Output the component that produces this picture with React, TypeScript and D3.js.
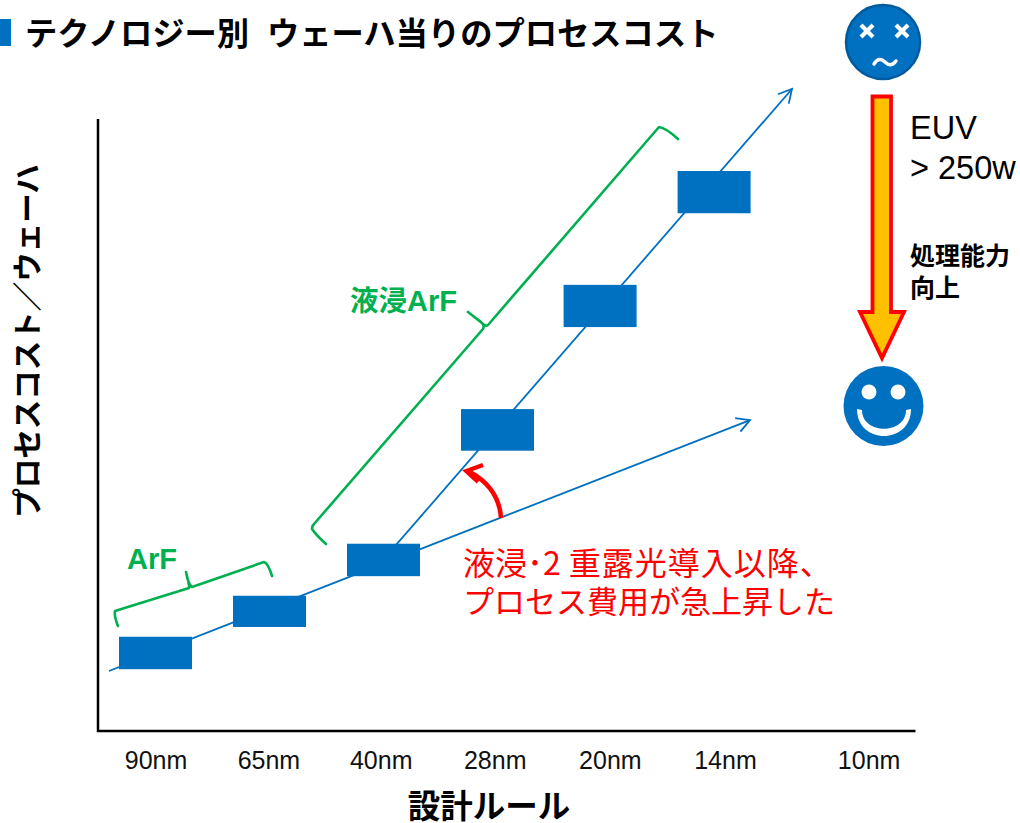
import * as d3 from 'd3';

// design rules along the x axis, in "node steps" from 90nm
const nodeLabels = ['90nm', '65nm', '40nm', '28nm', '20nm', '14nm', '10nm'];
const labelSteps = [0.005, 0.995, 1.98, 2.98, 3.99, 5.0, 6.26];

// cost blocks (arbitrary cost units, 0-100 axis)
const barSteps = [0, 1, 2, 3, 3.9, 4.9];
const barLow = [10.1, 17.0, 25.3, 45.8, 66.0, 84.6];
const barHigh = [15.4, 22.1, 30.6, 52.6, 72.9, 91.5];

// trend lines: [step, cost]
const dryTrend: [number, number][] = [[-0.408, 9.8], [5.215, 50.8]];
const immersionTrend: [number, number][] = [[2.11, 30.4], [5.583, 104.9]];

const BLUE = '#0070c0';
const GREEN = '#00b050';
const RED = '#ff0000';
const JP = '"Noto Sans CJK JP", sans-serif';
const LATIN = '"Liberation Sans", Arial, sans-serif';

const x = d3.scaleLinear().domain([0, 1]).range([155.5, 269.5]);
const y = d3.scaleLinear().domain([0, 100]).range([731, 119]);
const trendLine = d3.line<[number, number]>().x(d => x(d[0])).y(d => y(d[1]));

// open arrow head at the end of a segment
function arrowHead(from: [number, number], to: [number, number], len = 15, spread = 0.5) {
  const a = Math.atan2(to[1] - from[1], to[0] - from[0]);
  const p1 = [to[0] - len * Math.cos(a - spread), to[1] - len * Math.sin(a - spread)];
  const p2 = [to[0] - len * Math.cos(a + spread), to[1] - len * Math.sin(a + spread)];
  return `M${p1[0]},${p1[1]}L${to[0]},${to[1]}L${p2[0]},${p2[1]}`;
}

function Trend({ pts }: { pts: [number, number][] }) {
  const a: [number, number] = [x(pts[0][0]), y(pts[0][1])];
  const b: [number, number] = [x(pts[1][0]), y(pts[1][1])];
  return (
    <g fill="none" stroke={BLUE} strokeWidth={1.8}>
      <path d={trendLine(pts) ?? ''} />
      <path d={arrowHead(a, b)} />
    </g>
  );
}

export default function App() {
  return (
    <svg width={1020} height={823} style={{ position: 'absolute', left: 0, top: 0, background: '#fff' }}>
      {/* title */}
      <rect x={0} y={19} width={11} height={27} fill={BLUE} />
      <text y={45} fontFamily={JP} fontSize={32.3} fontWeight={700} fill="#000">
        <tspan x={25}>テクノロジー別</tspan>
        <tspan x={267}>ウェーハ当りのプロセスコスト</tspan>
      </text>

      {/* axes */}
      <path d={`M${x(-0.5)},${y(100)}V${y(0)}H916`} transform="translate(-0.5,0)" fill="none" stroke="#000" strokeWidth={2.5} />
      {nodeLabels.map((d, i) => (
        <text key={d} x={x(labelSteps[i])} y={769} textAnchor="middle" fontFamily={LATIN} fontSize={25} fill="#111">{d}</text>
      ))}
      <text x={489} y={818} textAnchor="middle" fontFamily={JP} fontSize={32.5} fontWeight={700} fill="#000">設計ルール</text>
      <text transform="translate(37.5,341) rotate(-90)" textAnchor="middle" fontFamily={JP} fontSize={29.5} fontWeight={700} fill="#000">プロセスコスト／ウェーハ</text>

      {/* trends */}
      <Trend pts={dryTrend} />
      <Trend pts={immersionTrend} />

      {/* cost blocks */}
      {barSteps.map((s, i) => (
        <rect key={i} x={x(s) - 36.5} width={73} y={y(barHigh[i])} height={y(barLow[i]) - y(barHigh[i])} fill={BLUE} />
      ))}

      {/* brackets */}
      <g fill="none" stroke={GREEN} strokeWidth={2.6} strokeLinejoin="round" strokeLinecap="round">
        <path d="M118,626Q114,616 115,611L189,588Q190,588 186,572Q188,584 192,587L264,562Q268,563 272,576" />
        <path d="M326,544Q316,535 312,529Q312,526 314,524L483,329Q485,325 481,322L468,312L482,323Q485,327 488,325L659,127Q666,128 678,139" />
      </g>
      <text x={350} y={311} fontFamily={JP} fontSize={28.5} fontWeight={700} fill={GREEN}>液浸<tspan fontFamily={LATIN} fontSize={29}>ArF</tspan></text>
      <text x={127} y={569} fontFamily={LATIN} fontSize={29} fontWeight={700} fill={GREEN}>ArF</text>

      {/* red note */}
      <path d="M501,518Q499,488 470,472" fill="none" stroke={RED} strokeWidth={4.5} />
      <path d="M483,465L466,471L478,482" fill="none" stroke={RED} strokeWidth={4} />
      <text x={463} y={575} fontFamily={JP} fontSize={32} fill={RED}>液浸･2<tspan dx={8} letterSpacing={1}>重露光導入以降、</tspan></text>
      <text x={463} y={613} fontFamily={JP} fontSize={31} fill={RED}>プロセス費用が急上昇した</text>

      {/* sad face */}
      <circle cx={883} cy={42} r={37} fill={BLUE} stroke="#005a9e" strokeWidth={2.5} />
      <g stroke="#fff" strokeWidth={4.2} fill="none">
        <path d="M861,25L873,37M873,25L861,37" />
        <path d="M896,25L908,37M908,25L896,37" />
        <path d="M874,64Q879,56 885,62T896,61" strokeWidth={3.4} strokeLinecap="round" />
      </g>

      {/* block arrow */}
      <path d="M872.5,96.5H891V312H904L882,358L860,312H872.5Z" fill="#ffc000" stroke={RED} strokeWidth={3.8} />
      <text x={910} y={139} fontFamily={LATIN} fontSize={32.5} fill="#000">EUV</text>
      <text x={910} y={179} fontFamily={LATIN} fontSize={32.5} fill="#000">&gt; 250w</text>
      <text x={910} y={265} fontFamily={JP} fontSize={25} fontWeight={700} fill="#000">処理能力</text>
      <text x={910} y={297} fontFamily={JP} fontSize={25} fontWeight={700} fill="#000">向上</text>

      {/* happy face */}
      <circle cx={883.5} cy={406} r={40} fill={BLUE} />
      <circle cx={869} cy={392} r={7.5} fill="#fff" />
      <circle cx={898} cy={392} r={7.5} fill="#fff" />
      <path d="M857,409C857,445 911,445 911,409L906,410C906,435 862,435 862,410Z" fill="#fff" />
    </svg>
  );
}
